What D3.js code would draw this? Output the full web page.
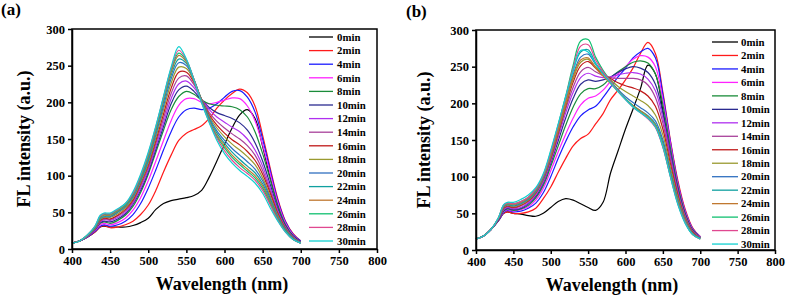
<!DOCTYPE html>
<html>
<head>
<meta charset="utf-8">
<script src="https://cdn.jsdelivr.net/npm/d3@7"></script>
<style>
  body { margin: 0; background: #fff; }
  text { font-family: "Liberation Serif", "Times New Roman", serif; font-weight: bold; }
</style>
</head>
<body>
<div id="chart"></div>
<script>
// DATA
const wavelengths = [400,410,420,430,437,442,450,460,470,480,490,500,510,520,530,540,550,560,570,580,590,600,610,620,630,640,650,660,670,680,690,700];
const seriesNames = ['0min','2min','4min','6min','8min','10min','12min','14min','16min','18min','20min','22min','24min','26min','28min','30min'];
const xTicks = [400,450,500,550,600,650,700,750,800];
const yTicks = [0,50,100,150,200,250,300];

// panel (a)
const a0  = [8,11,16,23,30,31,30,30,30,32,36,42,54,62,66,68,70,73,80,98,120,143,165,183,190,178,140,97,60,33,19,10];
const a2  = [8,11,16,23,30,32,29,30,33,38,47,60,80,105,128,148,158,163,168,178,192,203,212,218,213,195,155,110,68,38,21,11];
const a4  = [8,11,16,24,31,33,31,33,38,47,62,83,108,135,160,180,190,192,190,192,198,207,215,216,207,187,150,107,66,37,20,11];
const a6  = [8,11,17,25,33,35,33,36,42,53,70,93,120,148,175,196,205,205,200,198,200,203,206,205,195,175,142,102,63,35,19,10];
const a8  = [8,11,17,26,35,37,35,39,46,58,77,102,132,162,190,208,215,211,203,198,196,195,194,190,180,160,130,95,59,33,18,10];
const a10 = [8,11,17,26,36,38,37,41,48,61,80,105,136,167,198,217,222,215,203,193,186,182,178,172,162,145,120,88,55,31,17,10];
const a12 = [8,11,17,27,37,40,39,43,50,63,83,108,140,172,205,225,229,220,204,190,180,173,166,160,150,135,113,83,52,30,16,9];
const a14 = [8,11,17,27,38,41,40,45,52,65,86,111,144,178,212,233,236,224,204,186,174,165,157,150,141,128,107,79,50,29,16,9];
const a16 = [8,11,18,28,39,42,41,46,54,67,89,114,148,184,219,241,241,227,204,183,169,158,149,142,133,121,102,76,48,28,15,9];
const a18 = [8,11,18,28,40,43,43,48,56,69,91,117,152,190,226,248,246,229,204,181,165,153,143,135,126,115,97,72,46,27,15,9];
const a20 = [8,11,18,29,41,44,44,50,58,71,93,120,156,195,232,254,250,230,203,179,161,148,137,128,119,109,93,69,44,26,14,9];
const a22 = [8,11,18,29,42,45,45,51,59,73,95,123,160,200,237,259,253,231,202,177,158,144,132,122,113,104,89,66,42,25,14,8];
const a24 = [8,11,18,30,43,46,46,52,60,74,97,126,163,204,241,264,255,231,201,175,155,141,128,118,109,100,86,64,41,24,13,8];
const a26 = [8,11,19,30,44,47,47,53,61,75,98,128,165,206,244,267,257,231,201,174,153,138,125,115,106,97,83,62,40,24,13,8];
const a28 = [8,11,19,31,45,48,48,54,62,76,100,130,167,207,246,271,258,231,200,173,151,134,121,111,103,94,80,60,39,23,13,8];
const a30 = [8,11,19,31,46,49,49,55,62,78,102,132,168,208,248,276,259,230,199,172,148,130,117,107,99,90,76,56,38,23,13,8];

// panel (b)
const b0  = [15,19,28,40,50,52,50,49,47,46,50,58,66,70,68,63,58,54,65,105,135,165,192,220,252,240,190,130,80,45,26,17];
const b2  = [15,19,28,40,50,52,50,50,52,57,70,86,106,125,142,152,158,172,186,205,218,232,248,268,283,268,215,150,95,55,30,18];
const b4  = [15,19,28,40,51,54,52,53,57,64,78,100,125,148,168,183,191,196,208,222,236,248,262,270,275,262,212,148,92,53,29,18];
const b6  = [15,19,28,41,52,55,53,55,59,68,84,108,134,158,180,198,207,210,218,230,240,250,260,265,263,250,205,145,90,52,28,18];
const b8  = [15,19,28,41,53,56,54,56,61,71,88,114,142,170,195,213,220,220,225,235,243,250,256,258,255,240,198,140,87,50,27,17];
const b10 = [15,19,28,41,54,57,55,57,63,73,91,118,149,180,207,226,232,230,232,236,242,247,250,248,242,226,187,133,83,48,26,17];
const b12 = [15,19,28,42,55,58,56,58,64,75,93,121,154,187,215,235,241,237,235,236,239,241,242,240,233,217,180,128,80,46,25,17];
const b14 = [15,19,28,42,56,59,57,60,66,77,95,123,157,192,222,243,249,243,238,235,234,234,234,232,225,208,173,124,78,45,25,17];
const b16 = [15,19,28,42,57,60,58,61,67,78,97,125,160,196,229,251,257,248,240,234,228,224,221,217,210,196,165,118,75,43,24,16];
const b18 = [15,19,28,43,58,61,59,62,68,79,98,127,162,198,233,256,260,250,240,232,223,216,210,204,197,184,157,113,72,42,23,16];
const b20 = [15,19,28,43,59,62,60,63,69,80,99,129,165,202,239,263,267,253,241,230,219,209,201,194,187,176,150,108,69,40,22,16];
const b22 = [15,19,28,43,60,62,61,64,70,81,100,131,168,207,245,270,273,255,241,229,217,206,197,190,183,172,146,105,67,39,22,16];
const b24 = [15,19,28,43,60,63,62,65,71,82,101,130,165,201,236,259,262,248,237,227,216,206,197,190,182,170,143,103,66,38,21,15];
const b26 = [15,19,28,44,61,64,63,66,72,83,102,134,171,210,252,285,287,263,245,231,218,206,196,188,180,168,141,101,64,37,21,15];
const b28 = [15,19,28,44,61,64,63,66,72,83,102,133,170,208,248,278,280,259,243,230,217,205,195,187,179,167,140,100,63,37,21,15];
const b30 = [15,19,28,44,62,65,65,69,75,85,104,136,172,209,245,272,270,254,240,228,216,205,195,187,180,168,141,100,62,36,21,15];

const colors = ['#000000','#ff1a1a','#1a1aff','#ff22ff','#1a8c3a','#2a2a90','#b030f0','#a8409a',
                '#c01818','#9a9a30','#3070c0','#10a0a0','#c07830','#10c070','#e04890','#10d0d0'];

// panel layout (pixels)
const panels = [
  { id: 'a', label: '(a)', labelX: 1, labelY: 15, left: 72, right: 377, top: 29, bottom: 249,
    series: [a0,a2,a4,a6,a8,a10,a12,a14,a16,a18,a20,a22,a24,a26,a28,a30],
    legend: { x1: 309, x2: 333, tx: 337, y0: 37, dy: 13.6 },
    yLabelX: 30, xLabelX: 222, xLabelY: 290 },
  { id: 'b', label: '(b)', labelX: 406, labelY: 17, left: 476, right: 775, top: 30, bottom: 250,
    series: [b0,b2,b4,b6,b8,b10,b12,b14,b16,b18,b20,b22,b24,b26,b28,b30],
    legend: { x1: 712, x2: 738, tx: 741, y0: 42, dy: 13.47 },
    yLabelX: 430, xLabelX: 612, xLabelY: 291 }
];

const svg = d3.select('#chart').append('svg')
  .attr('width', 787)
  .attr('height', 300);

panels.forEach(p => drawPanel(p));

function drawPanel (p) {
  const x = d3.scaleLinear().domain([400, 800]).range([p.left, p.right]);
  const y = d3.scaleLinear().domain([0, 300]).range([p.bottom, p.top]);
  const g = svg.append('g').attr('id', 'panel-' + p.id);

  // spectra
  const line = d3.line()
    .x((d, i) => x(wavelengths[i]))
    .y(d => y(d))
    .curve(d3.curveCatmullRom.alpha(0.5));

  g.selectAll('path.spec')
    .data(p.series)
    .join('path')
    .attr('class', 'spec')
    .attr('d', line)
    .attr('fill', 'none')
    .attr('stroke', (d, i) => colors[i])
    .attr('stroke-width', 1.2);

  // frame
  g.append('rect')
    .attr('x', p.left).attr('y', p.top)
    .attr('width', p.right - p.left).attr('height', p.bottom - p.top)
    .attr('fill', 'none').attr('stroke', '#000').attr('stroke-width', 1.5);

  // axes
  const xAxis = g.append('g')
    .attr('transform', `translate(0, ${p.bottom})`)
    .call(d3.axisBottom(x).tickValues(xTicks).tickSize(4).tickPadding(3).tickSizeOuter(0));
  const yAxis = g.append('g')
    .attr('transform', `translate(${p.left}, 0)`)
    .call(d3.axisLeft(y).tickValues(yTicks).tickSize(4).tickPadding(3).tickSizeOuter(0));

  [xAxis, yAxis].forEach(ax => {
    ax.select('.domain').attr('stroke-width', 1.5);
    ax.selectAll('.tick line').attr('stroke-width', 1.5);
    ax.selectAll('.tick text')
      .attr('font-family', '"Liberation Serif", "Times New Roman", serif')
      .attr('font-weight', 'bold')
      .attr('font-size', 12.5)
      .attr('fill', '#000');
  });

  // legend
  const leg = g.append('g');
  seriesNames.forEach((name, i) => {
    const ly = p.legend.y0 + i * p.legend.dy;
    leg.append('line')
      .attr('x1', p.legend.x1).attr('x2', p.legend.x2)
      .attr('y1', ly).attr('y2', ly)
      .attr('stroke', colors[i]).attr('stroke-width', 1.3);
    leg.append('text')
      .attr('x', p.legend.tx).attr('y', ly)
      .attr('dy', '0.35em')
      .attr('font-size', 10.8)
      .text(name);
  });

  // axis titles
  g.append('text')
    .attr('x', p.xLabelX).attr('y', p.xLabelY)
    .attr('text-anchor', 'middle')
    .attr('font-size', 18)
    .text('Wavelength (nm)');

  g.append('text')
    .attr('transform', `translate(${p.yLabelX}, ${(p.top + p.bottom) / 2}) rotate(-90)`)
    .attr('text-anchor', 'middle')
    .attr('font-size', 18)
    .text('FL intensity (a.u.)');

  // panel label
  g.append('text')
    .attr('x', p.labelX).attr('y', p.labelY)
    .attr('font-size', 17)
    .text(p.label);
}
</script>
</body>
</html>
